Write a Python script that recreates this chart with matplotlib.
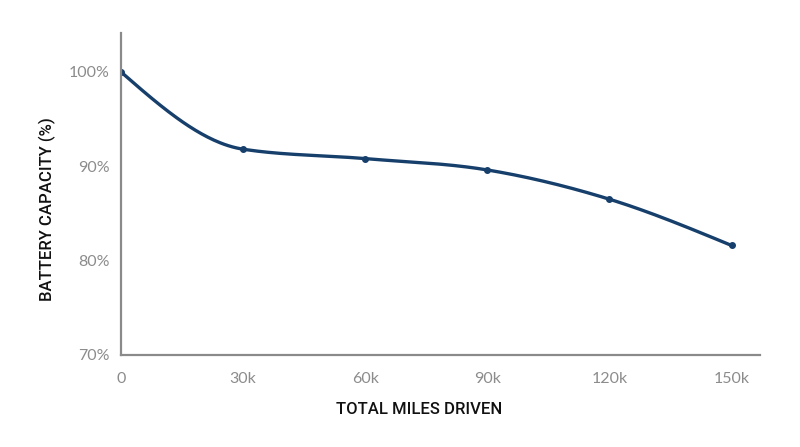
import numpy as np
import matplotlib
matplotlib.use('Agg')
import matplotlib.pyplot as plt

# data
miles = [0, 30000, 60000, 90000, 120000, 150000]
capacity = [100.0, 91.8, 90.8, 89.6, 86.5, 81.6]
x_ticks = [0, 30000, 60000, 90000, 120000, 150000]
x_tick_labels = ['0', '30k', '60k', '90k', '120k', '150k']
y_ticks = [70, 80, 90, 100]
y_tick_labels = ['70%', '80%', '90%', '100%']

LINE = '#173f6b'
AXIS = '#8a8a8a'


# monotone cubic curve (like d3.curveMonotoneX) for drawing the line
def monotone_curve(xs, ys, n=60):
    xs = np.asarray(xs, float)
    ys = np.asarray(ys, float)
    k = len(xs)
    h = np.diff(xs)
    s = np.diff(ys) / h
    t = np.zeros(k)
    for i in range(1, k - 1):
        p = (s[i - 1] * h[i] + s[i] * h[i - 1]) / (h[i - 1] + h[i])
        t[i] = (np.sign(s[i - 1]) + np.sign(s[i])) * min(abs(s[i - 1]), abs(s[i]), 0.5 * abs(p))
    t[0] = (3 * s[0] - t[1]) / 2
    t[-1] = (3 * s[-1] - t[-2]) / 2
    px, py = [], []
    for i in range(k - 1):
        u = np.linspace(0, 1, n)
        h00 = 2 * u**3 - 3 * u**2 + 1
        h10 = u**3 - 2 * u**2 + u
        h01 = -2 * u**3 + 3 * u**2
        h11 = u**3 - u**2
        px.extend(xs[i] + u * h[i])
        py.extend(h00 * ys[i] + h10 * h[i] * t[i] + h01 * ys[i + 1] + h11 * h[i] * t[i + 1])
    return np.array(px), np.array(py)


plt.rcParams['font.family'] = ['Lato', 'DejaVu Sans']

fig = plt.figure(figsize=(8, 4.47), dpi=100)
ax = fig.add_axes([0.151, 0.206, 0.799, 0.720])

cx, cy = monotone_curve(miles, capacity)
ax.plot(cx, cy, color=LINE, linewidth=2.4, solid_capstyle='round')
ax.plot(miles, capacity, 'o', color=LINE, markersize=4)

ax.set_xlim(0, 157000)
ax.set_ylim(70, 104.1)
ax.set_xticks(x_ticks)
ax.set_xticklabels(x_tick_labels)
ax.set_yticks(y_ticks)
ax.set_yticklabels(y_tick_labels)
ax.tick_params(length=0, labelsize=11.5, colors='#8c8c8c', pad=8)
ax.tick_params(axis='x', pad=12)

for side in ['top', 'right']:
    ax.spines[side].set_visible(False)
for side in ['left', 'bottom']:
    ax.spines[side].set_color(AXIS)
    ax.spines[side].set_linewidth(1.6)

# axis titles placed where they sit in the original
fig.text(0.524, 0.083, 'TOTAL MILES DRIVEN', ha='center', va='center',
         fontsize=12, fontweight='medium', color='#111111',
         family=['Roboto', 'DejaVu Sans'])
fig.text(0.059, 0.532, 'BATTERY CAPACITY (%)', ha='center', va='center',
         rotation=90, fontsize=12, fontweight='medium', color='#111111',
         family=['Roboto', 'DejaVu Sans'])

fig.savefig('out.png', dpi=100)
